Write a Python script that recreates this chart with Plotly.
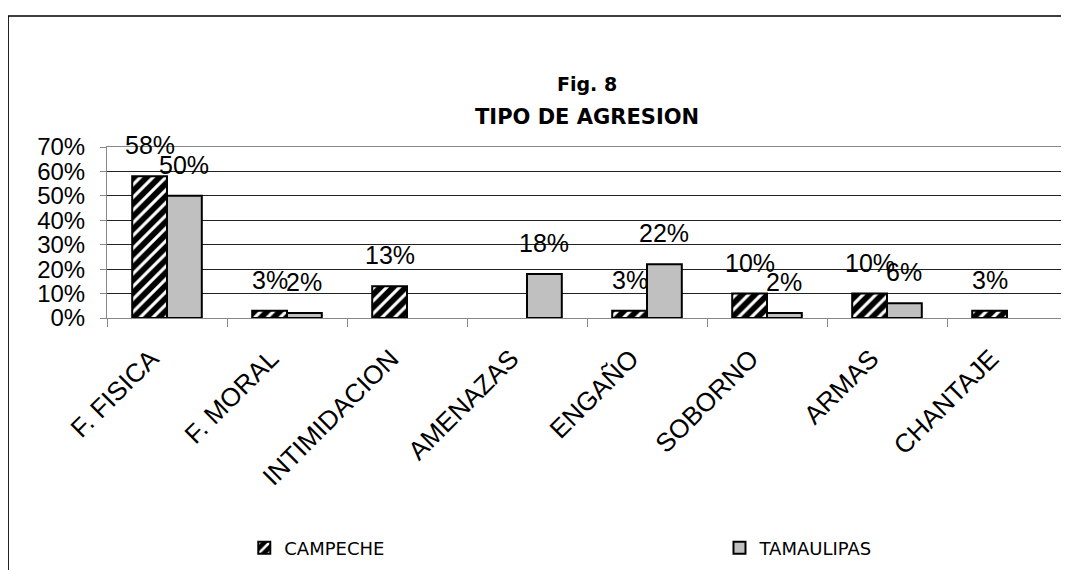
import plotly.graph_objects as go

categorias = ["F. FISICA", "F. MORAL", "INTIMIDACION", "AMENAZAS", "ENGAÑO", "SOBORNO", "ARMAS", "CHANTAJE"]
campeche = [0.58, 0.03, 0.13, 0, 0.03, 0.10, 0.10, 0.03]
tamaulipas = [0.50, 0.02, 0, 0.18, 0.22, 0.02, 0.06, 0]
y_ticks = [0, 0.1, 0.2, 0.3, 0.4, 0.5, 0.6, 0.7]

BARGAP = 0.42
ANCHO_CAT = 960 / len(categorias)
ANCHO_BARRA = ANCHO_CAT * (1 - BARGAP) / 2


def barras(vals):
    # los ceros no se dibujan en el original
    return [v if v > 0 else None for v in vals]


fig = go.Figure()
fig.add_trace(go.Bar(
    x=categorias, y=barras(campeche), name="CAMPECHE", legend="legend",
    marker=dict(color="black", line=dict(color="black", width=2),
                pattern=dict(shape="/", fgcolor="white", bgcolor="black",
                             fillmode="replace", size=9, solidity=0.35)),
))
fig.add_trace(go.Bar(
    x=categorias, y=barras(tamaulipas), name="TAMAULIPAS", legend="legend2",
    marker=dict(color="#c0c0c0", line=dict(color="black", width=2)),
))

# etiquetas de datos, algo separadas de la barra como en el original
etiquetas = []
for serie, desplaz in ((campeche, -ANCHO_BARRA / 2), (tamaulipas, ANCHO_BARRA / 2)):
    for cat, v in zip(categorias, serie):
        if v > 0:
            etiquetas.append(dict(
                x=cat, y=v, xref="x", yref="y", text=f"{v:.0%}", showarrow=False,
                xshift=desplaz, yshift=15, yanchor="bottom",
                font=dict(family="Liberation Sans", size=25, color="black"),
            ))

leyenda = dict(orientation="h", xanchor="left", y=-1.345, yanchor="middle",
               bgcolor="rgba(0,0,0,0)", itemwidth=30,
               font=dict(family="DejaVu Sans", size=18, color="black"))

fig.update_layout(
    width=1061, height=562,
    margin=dict(l=99, r=2, t=139, b=252, autoexpand=False),
    paper_bgcolor="white", plot_bgcolor="white",
    barmode="group", bargap=BARGAP, bargroupgap=0,
    font=dict(family="Liberation Sans", color="black"),
    showlegend=True,
    legend=dict(leyenda, x=0.143),
    legend2=dict(leyenda, x=0.638),
    annotations=[
        dict(text="<b>Fig. 8</b>", xref="paper", yref="paper", x=0.5, y=1.368,
             yanchor="middle", showarrow=False, font=dict(family="DejaVu Sans", size=19)),
        dict(text="<b>TIPO DE AGRESION</b>", xref="paper", yref="paper", x=0.5, y=1.175,
             yanchor="middle", showarrow=False, font=dict(family="DejaVu Sans", size=21)),
    ] + etiquetas,
    shapes=[
        dict(type="rect", xref="paper", yref="paper", x0=-0.103, x1=1.05, y0=-1.6, y1=1.766,
             line=dict(color="black", width=1.5), fillcolor="rgba(0,0,0,0)", layer="below"),
    ],
)

fig.update_yaxes(
    range=[0, 0.7], tickvals=y_ticks, tickformat=".0%", automargin=False,
    tickfont=dict(family="Liberation Sans", size=24), ticklabelstandoff=10,
    showgrid=True, gridcolor="#222", gridwidth=1,
    showline=True, linecolor="#888", linewidth=1, mirror=True,
    ticks="outside", ticklen=6, tickcolor="#888", zeroline=False,
)
fig.update_xaxes(
    tickangle=-45, tickfont=dict(family="Liberation Sans", size=26), automargin=False,
    ticklabelstandoff=14, ticklabelshift=-16,
    showline=True, linecolor="#888", linewidth=1, mirror=True,
    ticks="outside", ticklen=8, tickcolor="#888", tickson="boundaries",
)

fig.write_html("out.html")
